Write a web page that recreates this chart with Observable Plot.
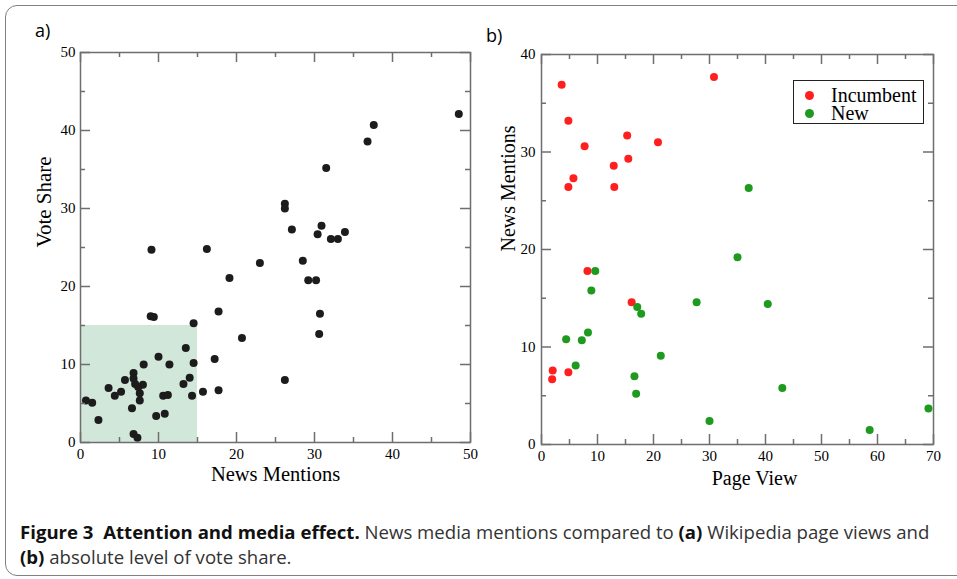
<!DOCTYPE html>
<html>
<head>
<meta charset="utf-8">
<script src="https://cdn.jsdelivr.net/npm/d3@7"></script>
<script src="https://cdn.jsdelivr.net/npm/@observablehq/plot@0.6"></script>
<style>
  html, body { margin: 0; padding: 0; background: #fff; }
  #page { position: relative; width: 957px; height: 579px; overflow: hidden; background: #fff; }
  #border { position: absolute; left: 5px; top: 5px; width: 1000px; height: 571px; border: 1.5px solid #808080; border-radius: 12px; box-sizing: border-box; pointer-events: none; }
  .panel-label { position: absolute; font-family: "Open Sans", sans-serif; font-size: 18px; color: #000; }
  .chart { position: absolute; top: 0; }
  #legend { position: absolute; left: 793px; top: 80px; width: 131px; height: 44px; border: 1px solid #222; box-sizing: border-box; background: #fff; font-family: "Liberation Serif", serif; font-size: 20px; }
  .lg-item { position: absolute; left: 0; height: 18px; }
  .lg-dot { position: absolute; left: 11px; width: 9px; height: 9px; border-radius: 50%; top: 4.5px; }
  .lg-text { position: absolute; left: 37px; top: 0px; display: inline-block; height: 18px; line-height: 18px; white-space: nowrap; overflow: visible; }
  #caption { position: absolute; left: 20px; top: 519px; width: 935px; font-family: "Open Sans", sans-serif; font-size: 18.6px; line-height: 25px; color: #333; white-space: nowrap; }
  #caption b { color: #111; }
</style>
</head>
<body>
<div id="page">
  <div id="border"></div>
  <div class="panel-label" style="left:35px; top:18px;">a)</div>
  <div class="panel-label" style="left:486px; top:23px;">b)</div>
  <div id="chartA" class="chart" style="left:0px;"></div>
  <div id="chartB" class="chart" style="left:490px;"></div>
  <div id="ticksA" class="chart" style="left:0px;"></div>
  <div id="ticksB" class="chart" style="left:490px;"></div>
  <div id="legend"></div>
  <div id="caption"><b>Figure 3&nbsp; Attention and media effect.</b> News media mentions compared to <b>(a)</b> Wikipedia page views and<br><b>(b)</b> absolute level of vote share.</div>
</div>
<script>
// ---------- Panel a) data ----------
const aNewsMentions = [48.5, 37.6, 36.8, 31.5, 26.2, 26.2, 27.1, 30.9, 30.4, 32.1, 33.0, 33.9, 28.5, 29.2, 30.2, 30.7, 30.6, 26.2, 23.0, 19.1, 16.2, 9.1, 9.0, 9.4, 17.7, 20.7, 14.5, 17.2, 13.5, 14.5, 10.0, 8.1, 11.4, 17.7, 15.7, 14.3, 14.0, 13.2, 10.6, 11.2, 6.8, 6.8, 7.0, 7.4, 8.0, 7.6, 7.6, 5.7, 3.6, 5.2, 4.4, 0.7, 1.5, 6.6, 9.7, 10.8, 2.3, 6.8, 7.3];
const aVoteShare    = [42.1, 40.7, 38.6, 35.2, 30.6, 30.0, 27.3, 27.8, 26.7, 26.1, 26.1, 27.0, 23.3, 20.8, 20.8, 16.5, 13.9, 8.0, 23.0, 21.1, 24.8, 24.7, 16.2, 16.1, 16.8, 13.4, 15.3, 10.7, 12.1, 10.2, 11.0, 10.0, 10.0, 6.7, 6.5, 6.0, 8.3, 7.5, 6.0, 6.1, 8.9, 8.2, 7.5, 7.1, 7.4, 6.3, 5.4, 8.0, 7.0, 6.5, 6.0, 5.4, 5.1, 4.4, 3.4, 3.7, 2.9, 1.1, 0.6];
const aHighlightX = [0, 15];
const aHighlightY = [0, 15];
const aXDomain = [0, 50];
const aYDomain = [0, 50];
const aMajorTicks = [0, 10, 20, 30, 40, 50];
const aMinorTicks = [5, 15, 25, 35, 45];
const aXLabel = "News Mentions";
const aYLabel = "Vote Share";

// ---------- Panel b) data ----------
const seriesNames = ["Incumbent", "New"];
const seriesColors = ["#ff1f1f", "#1e9a1e"];
const incumbentPageView = [3.6, 30.8, 4.8, 15.3, 7.7, 20.8, 15.5, 12.9, 5.7, 4.8, 13.0, 8.2, 16.1, 2.0, 1.9, 4.8];
const incumbentNews     = [36.9, 37.7, 33.2, 31.7, 30.6, 31.0, 29.3, 28.6, 27.3, 26.4, 26.4, 17.8, 14.6, 7.6, 6.7, 7.4];
const newPageView = [9.6, 8.9, 17.1, 17.8, 27.7, 4.4, 7.2, 8.3, 21.3, 6.1, 16.6, 16.9, 30.0, 37.0, 35.0, 40.4, 43.0, 58.6, 69.1];
const newNews     = [17.8, 15.8, 14.1, 13.4, 14.6, 10.8, 10.7, 11.5, 9.1, 8.1, 7.0, 5.2, 2.4, 26.3, 19.2, 14.4, 5.8, 1.5, 3.7];
const bXDomain = [0, 70];
const bYDomain = [0, 40];
const bXMajorTicks = [0, 10, 20, 30, 40, 50, 60, 70];
const bXMinorTicks = [5, 15, 25, 35, 45, 55, 65];
const bYMajorTicks = [0, 10, 20, 30, 40];
const bYMinorTicks = [5, 15, 25, 35];
const bXLabel = "Page View";
const bYLabel = "News Mentions";

// ---------- helpers ----------
const frameColor = "#6e6e6e";
const serif = "'Liberation Serif', 'Times New Roman', serif";

// overlay plot with the same scales: inward ticks on all four sides + frame
function tickOverlay(dims, xDomain, yDomain, xMajor, xMinor, yMajor, yMinor) {
  const plotW = dims.width - dims.marginLeft - dims.marginRight;
  const plotH = dims.height - dims.marginTop - dims.marginBottom;
  const st = { stroke: frameColor, strokeWidth: 1.5 };
  const marks = [];
  for (const [vals, len] of [[xMajor, 10], [xMinor, 5]]) {
    marks.push(Plot.tickX(vals, { ...st, x: d => d, insetTop: plotH - len }));
    marks.push(Plot.tickX(vals, { ...st, x: d => d, insetBottom: plotH - len }));
  }
  for (const [vals, len] of [[yMajor, 10], [yMinor, 5]]) {
    marks.push(Plot.tickY(vals, { ...st, y: d => d, insetRight: plotW - len }));
    marks.push(Plot.tickY(vals, { ...st, y: d => d, insetLeft: plotW - len }));
  }
  marks.push(Plot.frame({ stroke: frameColor, strokeWidth: 1.5 }));
  return Plot.plot({
    ...dims,
    style: { background: "transparent" },
    x: { domain: xDomain, axis: null },
    y: { domain: yDomain, axis: null },
    marks
  });
}

// ---------- Chart A ----------
const aPoints = aNewsMentions.map((x, i) => ({ x, y: aVoteShare[i] }));
const aBox = [{ x1: aHighlightX[0], x2: aHighlightX[1], y1: aHighlightY[0], y2: aHighlightY[1] }];
const A = { width: 480, height: 490, marginLeft: 80, marginRight: 10, marginTop: 52, marginBottom: 48 };
const chartA = Plot.plot({
  ...A,
  style: { fontFamily: serif, fontSize: "15px", color: "#000", background: "transparent" },
  x: { domain: aXDomain },
  y: { domain: aYDomain },
  marks: [
    Plot.rect(aBox, { x1: "x1", x2: "x2", y1: "y1", y2: "y2", fill: "#d1e7da" }),
    Plot.axisX({ anchor: "bottom", ticks: aMajorTicks, tickSize: 0, tickPadding: 6, label: null, fontSize: 15, tickFormat: d => d }),
    Plot.axisY({ anchor: "left", ticks: aMajorTicks, tickSize: 0, tickPadding: 5, label: null, fontSize: 15, tickFormat: d => d }),
    Plot.dot(aPoints, { x: "x", y: "y", r: 4, fill: "#1c1c1c", stroke: "none" }),
    Plot.text([aXLabel], { text: d => d, frameAnchor: "bottom", dy: 38, fontSize: 20.5 }),
    Plot.text([aYLabel], { text: d => d, frameAnchor: "left", dx: -36, rotate: -90, fontSize: 21 })
  ]
});
document.getElementById("chartA").append(chartA);
document.getElementById("ticksA").append(
  tickOverlay(A, aXDomain, aYDomain, aMajorTicks, aMinorTicks, aMajorTicks, aMinorTicks));

// ---------- Chart B ----------
const bPoints = [
  ...incumbentPageView.map((x, i) => ({ x, y: incumbentNews[i], s: seriesNames[0] })),
  ...newPageView.map((x, i) => ({ x, y: newNews[i], s: seriesNames[1] }))
];
const B = { width: 467, height: 490, marginLeft: 51, marginRight: 24, marginTop: 54, marginBottom: 46 };
const chartB = Plot.plot({
  ...B,
  style: { fontFamily: serif, fontSize: "15px", color: "#000", background: "transparent" },
  x: { domain: bXDomain },
  y: { domain: bYDomain },
  color: { domain: seriesNames, range: seriesColors },
  marks: [
    Plot.axisX({ anchor: "bottom", ticks: bXMajorTicks, tickSize: 0, tickPadding: 6, label: null, fontSize: 15, tickFormat: d => d }),
    Plot.axisY({ anchor: "left", ticks: bYMajorTicks, tickSize: 0, tickPadding: 6, label: null, fontSize: 15, tickFormat: d => d }),
    Plot.dot(bPoints, { x: "x", y: "y", r: 4, fill: "s", stroke: "none" }),
    Plot.text([bXLabel], { text: d => d, frameAnchor: "bottom", dx: 17, dy: 40, fontSize: 20 }),
    Plot.text([bYLabel], { text: d => d, frameAnchor: "left", dx: -33, dy: 2, rotate: -90, fontSize: 20 })
  ]
});
document.getElementById("chartB").append(chartB);
document.getElementById("ticksB").append(
  tickOverlay(B, bXDomain, bYDomain, bXMajorTicks, bXMinorTicks, bYMajorTicks, bYMinorTicks));

// ---------- Legend ----------
const legend = document.getElementById("legend");
seriesNames.forEach((name, i) => {
  const item = document.createElement("div");
  item.className = "lg-item";
  item.style.top = (5 + i * 18) + "px";
  item.innerHTML = `<span class="lg-dot" style="background:${seriesColors[i]}"></span><span class="lg-text">${name}</span>`;
  legend.append(item);
});
</script>
</body>
</html>
